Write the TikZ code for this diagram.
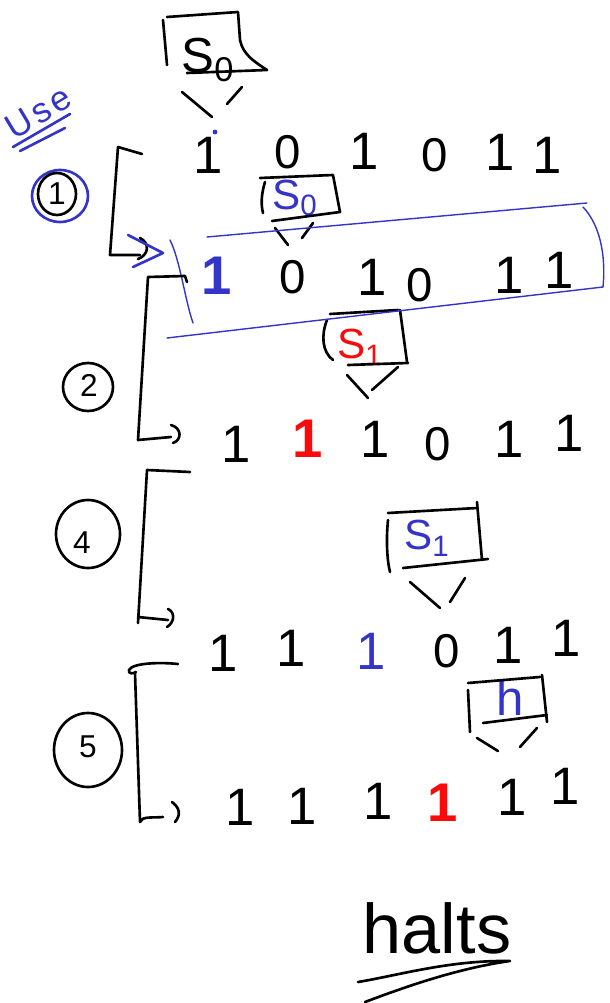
\documentclass[tikz,border=0pt]{standalone}
\usepackage{fontspec}
\setmainfont{Liberation Sans}
\definecolor{inkblue}{RGB}{52,52,200}
\definecolor{inkred}{RGB}{250,10,10}
\begin{document}
\begin{tikzpicture}[x=0.02cm,y=-0.02cm,
  pen/.style={line width=1.5pt,line cap=round,line join=round},
  thinpen/.style={line width=0.8pt,line cap=round,line join=round},
  one/.style={inner sep=0pt,font=\fontsize{30}{30}\selectfont},
  zero/.style={inner sep=0pt,font=\fontsize{27}{27}\selectfont},
  boldone/.style={inner sep=0pt,font=\bfseries\fontsize{31}{31}\selectfont},
  headtxt/.style={inner sep=0pt,font=\fontsize{24}{24}\selectfont},
  numtxt/.style={inner sep=0pt,font=\fontsize{18}{18}\selectfont}]
\useasboundingbox (0,0) rectangle (609,1003);

% ---------- row 0 ----------
\node[one] (r0a) at (208,155) {1};
\node[zero] (r0b) at (288,152) {0};
\node[one] (r0c) at (364,151) {1};
\node[zero] (r0d) at (435,155) {0};
\node[one] (r0e) at (500,152) {1};
\node[one] (r0f) at (547,155) {1};
\fill[inkblue] (215,132) circle[radius=2.4];

% ---------- row 1 ----------
\node[boldone,text=inkblue] (r1a) at (217,276) {1};
\node[zero] (r1b) at (293,277) {0};
\node[one] (r1c) at (372,277) {1};
\node[zero] (r1d) at (420,285) {0};
\node[one] (r1e) at (509,275) {1};
\node[one] (r1f) at (559,270) {1};

% ---------- row 2 ----------
\node[one] (r2a) at (236,444) {1};
\node[boldone,text=inkred] (r2b) at (308,439) {1};
\node[one] (r2c) at (375,439) {1};
\node[zero] (r2d) at (438,444) {0};
\node[one] (r2e) at (509,439) {1};
\node[one] (r2f) at (569,433) {1};

% ---------- row 3 ----------
\node[one] (r3a) at (223,653) {1};
\node[one] (r3b) at (291,648) {1};
\node[one,text=inkblue] (r3c) at (371,651) {1};
\node[zero] (r3d) at (447,651) {0};
\node[one] (r3e) at (508,645) {1};
\node[one] (r3f) at (566,638) {1};

% ---------- row 4 ----------
\node[one] (r4a) at (240,807) {1};
\node[one] (r4b) at (302,806) {1};
\node[one] (r4c) at (378,801) {1};
\node[boldone,text=inkred] (r4d) at (443,803) {1};
\node[one] (r4e) at (512,797) {1};
\node[one] (r4f) at (565,786) {1};

% ---------- top head S0 ----------
\node[headtxt,font=\fontsize{28}{28}\selectfont] (h0) at (208,60) {S\textsubscript{0}};
\draw[pen] (163,20) -- (167,65);
\draw[pen] (167,17) -- (238,12) -- (240,40) .. controls (243,55) and (255,62) .. (267,70) -- (187,73);
\draw[pen] (182,92) -- (212,117);
\draw[pen] (227,104) -- (242,87);

% ---------- head S0 over row 1 ----------
\node[headtxt,text=inkblue] (h1) at (295,198) {S\textsubscript{0}};
\draw[pen] (265,182) .. controls (261,195) and (261,205) .. (263,213);
\draw[pen] (260,178) -- (333,175) -- (340,212) -- (272,221);
\draw[pen] (275,228) -- (288,245);
\draw[pen] (302,238) -- (313,223);

% ---------- head S1 (red) over row 2 ----------
\node[headtxt,text=inkred] (h2) at (360,347) {S\textsubscript{1}};
\draw[pen] (327,320) .. controls (321,335) and (322,352) .. (333,360);
\draw[pen] (330,314) -- (398,310);
\draw[pen] (400,310) -- (407,362);
\draw[pen] (348,365) -- (408,363);
\draw[pen] (347,375) -- (368,398);
\draw[pen] (372,390) -- (398,367);

% ---------- head S1 (blue) over row 3 ----------
\node[headtxt,text=inkblue] (h3) at (427,538) {S\textsubscript{1}};
\draw[pen] (388,520) .. controls (386,540) and (387,560) .. (390,572);
\draw[pen] (388,513) -- (477,508);
\draw[pen] (477,502) -- (482,560);
\draw[pen] (403,568) -- (488,559);
\draw[pen] (410,582) -- (440,608);
\draw[pen] (450,602) -- (465,578);

% ---------- head h over row 4 ----------
\node[headtxt,text=inkblue,font=\fontsize{28}{28}\selectfont] (h4) at (510,698) {h};
\draw[pen] (468,683) -- (540,677);
\draw[pen] (542,675) -- (547,722);
\draw[pen] (468,690) -- (470,732);
\draw[pen] (483,723) -- (547,715);
\draw[pen] (477,738) -- (498,751);
\draw[pen] (520,747) -- (537,728);

% ---------- highlighted row 1 ----------
\draw[thinpen,inkblue] (207,237) -- (587,203);
\draw[thinpen,inkblue] (583,207) .. controls (600,225) and (606,255) .. (603,287) -- (167,338);
\draw[thinpen,inkblue] (170,240) .. controls (180,260) and (185,300) .. (193,323);

% ---------- brackets (step arrows) ----------
\coordinate (b1s) at (142,154);
\coordinate (b1e) at (140,255);
\draw[pen] (b1s) -- (118,147) -- (110,255) -- (b1e);
\draw[pen] (140,238) .. controls (150,243) and (149,255) .. (138,259);
\draw[pen,inkblue] (128,235) -- (163,253) -- (133,267);

\coordinate (b2s) at (187,282);
\coordinate (b2e) at (171,437);
\draw[pen] (b2s) -- (185,276) -- (148,277) -- (138,440) -- (b2e);
\draw[pen] (171,425) .. controls (182,428) and (182,440) .. (173,443);

\coordinate (b4s) at (190,472);
\coordinate (b4e) at (168,620);
\draw[pen] (b4s) -- (147,470) -- (138,623);
\draw[pen] (138,617) -- (b4e);
\draw[pen] (168,609) .. controls (175,612) and (175,622) .. (167,627);

\coordinate (b5s) at (178,664);
\coordinate (b5e) at (163,817);
\draw[pen] (b5s) .. controls (160,662) and (132,663) .. (129,670) .. controls (128,674) and (133,674) .. (136,672);
\draw[pen] (135,673) -- (140,822) .. controls (142,816) and (152,818) .. (b5e);
\draw[pen] (172,802) .. controls (180,808) and (181,815) .. (175,822);

% ---------- step numbers ----------
\draw[pen,inkblue] (60,196) ellipse [x radius=28, y radius=26];
\draw[pen] (57,194) ellipse [x radius=19, y radius=21];
\node[numtxt] (c1) at (57,194) {1};
\draw[pen] (88,387) ellipse [x radius=25, y radius=24];
\node[numtxt] (c2) at (89,385) {2};
\draw[pen] (88,534) ellipse [x radius=32, y radius=34];
\node[numtxt] (c4) at (82,543) {4};
\draw[pen] (88,750) ellipse [x radius=34, y radius=37];
\node[numtxt] (c5) at (88,747) {5};

% ---------- Use ----------
\node[inner sep=0pt,font=\fontsize{20}{20}\selectfont\addfontfeature{LetterSpace=10},text=inkblue,rotate=31] (use) at (38,112) {Use};
\draw[pen,inkblue] (13,147) -- (70,114);
\draw[pen,inkblue] (20,151) -- (65,128);

% ---------- halts ----------
\node[inner sep=0pt,font=\fontsize{40}{40}\selectfont] (halts) at (437,928) {halts};
\draw[pen] (358,982) .. controls (400,975) and (450,960) .. (510,961) .. controls (460,968) and (410,985) .. (365,1002);
\end{tikzpicture}
\end{document}
